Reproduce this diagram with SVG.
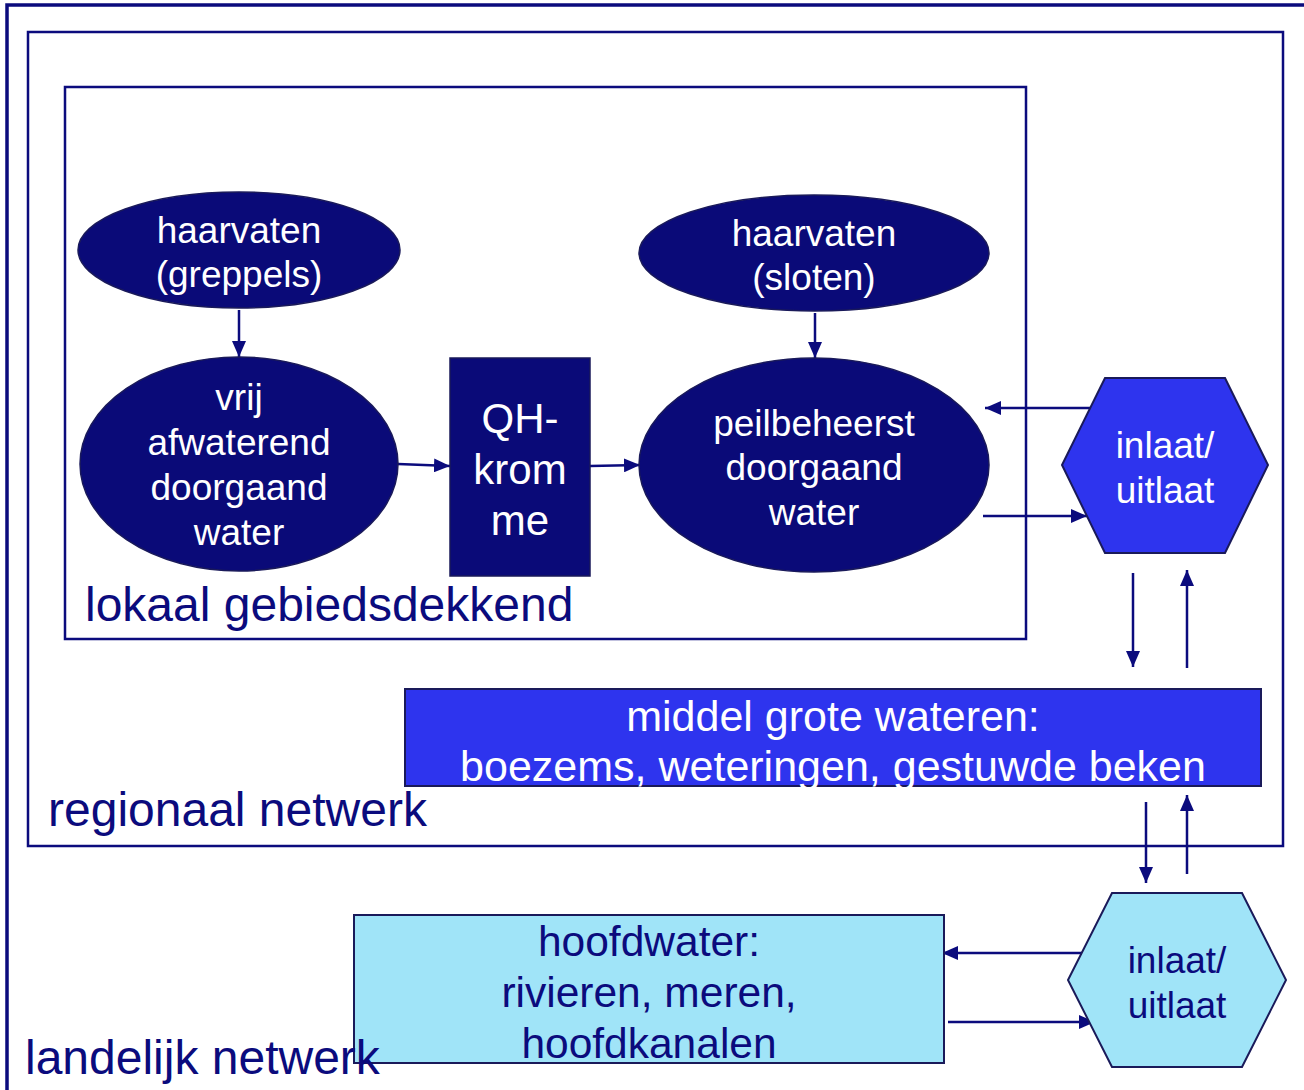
<svg xmlns="http://www.w3.org/2000/svg" width="1304" height="1090" viewBox="0 0 1304 1090">
<defs>
<marker id="ah" viewBox="0 0 16 14" refX="16" refY="7" markerWidth="16" markerHeight="14" markerUnits="userSpaceOnUse" orient="auto">
<path d="M0,0 L16,7 L0,14 Z" fill="#0b0b7d"/>
</marker>
<style>
.frame{fill:none;stroke:#0b0b7d;stroke-width:2.5}
.dark{fill:#0a0a78;stroke:#1a1a5a;stroke-width:1.5}
.blue{fill:#2e34ee;stroke:#1a1a5a;stroke-width:2}
.light{fill:#a0e4f8;stroke:#1a1a5a;stroke-width:2}
.w{fill:#ffffff;font-family:"Liberation Sans",Arial,sans-serif;text-anchor:middle}
.n{fill:#0b0b7d;font-family:"Liberation Sans",Arial,sans-serif}
.nc{fill:#0b0b7d;font-family:"Liberation Sans",Arial,sans-serif;text-anchor:middle}
.c{fill:none;stroke:#0b0b7d;stroke-width:2.5;marker-end:url(#ah)}
</style>
</defs>
<rect width="1304" height="1090" fill="#ffffff"/>
<g id="frames">
<path d="M7,1090 L7,5 L1304,5" fill="none" stroke="#0b0b7d" stroke-width="3.5"/>
<rect id="regionaal" class="frame" x="28" y="32" width="1255" height="814"/>
<rect id="lokaal" class="frame" x="65" y="87" width="961" height="552"/>
</g>
<g id="connectors">
<line class="c" x1="239" y1="310" x2="239" y2="357"/>
<line class="c" x1="815" y1="313" x2="815" y2="358"/>
<line class="c" x1="398" y1="464" x2="450" y2="466"/>
<line class="c" x1="590" y1="466" x2="640" y2="465"/>
<line class="c" x1="1090" y1="408" x2="985" y2="408"/>
<line class="c" x1="983" y1="516" x2="1087" y2="516"/>
<line class="c" x1="1133" y1="573" x2="1133" y2="667"/>
<line class="c" x1="1187" y1="668" x2="1187" y2="570"/>
<line class="c" x1="1146" y1="802" x2="1146" y2="883"/>
<line class="c" x1="1187" y1="874" x2="1187" y2="795"/>
<line class="c" x1="1087" y1="953" x2="942" y2="953"/>
<line class="c" x1="948" y1="1022" x2="1095" y2="1022"/>
</g>
<g id="greppels">
<ellipse class="dark" cx="239" cy="250" rx="161" ry="58"/>
<text class="w" font-size="37"><tspan x="239" y="243">haarvaten</tspan><tspan x="239" y="287">(greppels)</tspan></text>
</g>
<g id="sloten">
<ellipse class="dark" cx="814" cy="253" rx="175" ry="58"/>
<text class="w" font-size="37"><tspan x="814" y="246">haarvaten</tspan><tspan x="814" y="290">(sloten)</tspan></text>
</g>
<g id="vrij">
<ellipse class="dark" cx="239" cy="464" rx="159" ry="107"/>
<text class="w" font-size="37"><tspan x="239" y="410">vrij</tspan><tspan x="239" y="455">afwaterend</tspan><tspan x="239" y="500">doorgaand</tspan><tspan x="239" y="545">water</tspan></text>
</g>
<g id="qh">
<rect class="dark" x="450" y="358" width="140" height="218"/>
<text class="w" font-size="42"><tspan x="520" y="433">QH-</tspan><tspan x="520" y="484">krom</tspan><tspan x="520" y="535">me</tspan></text>
</g>
<g id="peil">
<ellipse class="dark" cx="814" cy="465" rx="175" ry="107"/>
<text class="w" font-size="37"><tspan x="814" y="436">peilbeheerst</tspan><tspan x="814" y="480">doorgaand</tspan><tspan x="814" y="525">water</tspan></text>
</g>
<g id="inlaat1">
<polygon class="blue" points="1105,378 1225,378 1268,465 1225,553 1105,553 1062,465"/>
<text class="w" font-size="37"><tspan x="1165" y="458">inlaat/</tspan><tspan x="1165" y="503">uitlaat</tspan></text>
</g>
<g id="middel">
<rect class="blue" x="405" y="689" width="856" height="97"/>
<text class="w" font-size="43"><tspan x="833" y="731">middel grote wateren:</tspan><tspan x="833" y="781">boezems, weteringen, gestuwde beken</tspan></text>
</g>
<g id="hoofdwater">
<rect class="light" x="354" y="915" width="590" height="148"/>
<text class="nc" font-size="42.5"><tspan x="649" y="956">hoofdwater:</tspan><tspan x="649" y="1007">rivieren, meren,</tspan><tspan x="649" y="1058">hoofdkanalen</tspan></text>
</g>
<g id="inlaat2">
<polygon class="light" points="1112,893 1242,893 1286,980 1242,1067 1112,1067 1068,980"/>
<text class="nc" font-size="37"><tspan x="1177" y="973">inlaat/</tspan><tspan x="1177" y="1018">uitlaat</tspan></text>
</g>
<g id="labels">
<text class="n" font-size="48" x="85" y="621">lokaal gebiedsdekkend</text>
<text class="n" font-size="48" x="48" y="826">regionaal netwerk</text>
<text class="n" font-size="48" x="25" y="1074">landelijk netwerk</text>
</g>
</svg>
